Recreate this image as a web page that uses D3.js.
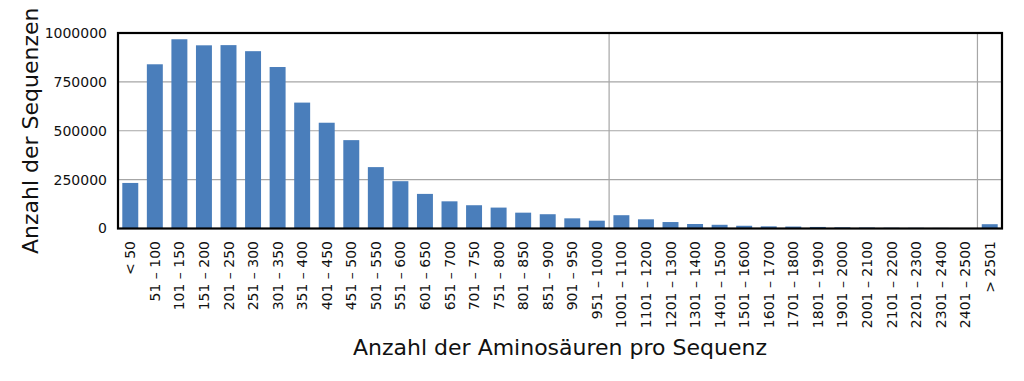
<!DOCTYPE html>
<html><head><meta charset="utf-8">
<script src="https://cdn.jsdelivr.net/npm/d3@7/dist/d3.min.js"></script>
<style>body{margin:0;background:#fff}svg{display:block;font-family:"DejaVu Sans",sans-serif}</style>
</head><body>
<svg id="c" width="1024" height="381"></svg>
<script>
const categories = ["< 50","51 – 100","101 – 150","151 – 200","201 – 250","251 – 300","301 – 350","351 – 400","401 – 450","451 – 500","501 – 550","551 – 600","601 – 650","651 – 700","701 – 750","751 – 800","801 – 850","851 – 900","901 – 950","951 – 1000","1001 – 1100","1101 – 1200","1201 – 1300","1301 – 1400","1401 – 1500","1501 – 1600","1601 – 1700","1701 – 1800","1801 – 1900","1901 – 2000","2001 – 2100","2101 – 2200","2201 – 2300","2301 – 2400","2401 – 2500","> 2501"];
const values = [233000,840000,968000,937000,938000,907000,826000,644000,541000,452000,314000,242000,177000,139000,119000,107000,81000,73000,52000,40000,68000,47000,33000,23000,19000,14000,11000,10000,8000,6000,5000,4000,3500,3000,2500,22000];
const yTicks = [0,250000,500000,750000,1000000];
const groupBoundaries = ["1001 – 1100","> 2501"];
const xTitle = "Anzahl der Aminosäuren pro Sequenz";
const yTitle = "Anzahl der Sequenzen";

const svg = d3.select("#c");
const L=118,R=1002,T=33,B=228.5;
const x = d3.scaleBand().domain(categories).range([L,R]).paddingInner(0.35).paddingOuter(0.175);
const y = d3.scaleLinear().domain([0,1000000]).range([B,T]);
const step = x.step();

// horizontal grid
svg.append("g").selectAll("line").data(yTicks.slice(1,-1)).join("line")
  .attr("x1",L).attr("x2",R).attr("y1",d=>y(d)).attr("y2",d=>y(d))
  .attr("stroke","#a6a6a6").attr("stroke-width",1.2);
// vertical group lines
svg.append("g").selectAll("line").data(groupBoundaries).join("line")
  .attr("x1",d=>x(d)-x.step()*x.paddingInner()/2).attr("x2",d=>x(d)-x.step()*x.paddingInner()/2)
  .attr("y1",T).attr("y2",B).attr("stroke","#a6a6a6").attr("stroke-width",1.2);

// bars
svg.append("g").selectAll("rect").data(values).join("rect")
  .attr("x",(d,i)=>x(categories[i])).attr("width",x.bandwidth())
  .attr("y",d=>y(d)).attr("height",d=>B-y(d)).attr("fill","#4a7ebb");

// frame
svg.append("rect").attr("x",L).attr("y",T).attr("width",R-L).attr("height",B-T)
  .attr("fill","none").attr("stroke","#000").attr("stroke-width",2.2);

// y axis
const ya = svg.append("g").attr("transform",`translate(${L},0)`)
  .call(d3.axisLeft(y).tickValues(yTicks).tickSize(0).tickPadding(11).tickFormat(d3.format("d")));
ya.select(".domain").remove();
ya.selectAll("text").attr("font-size",14).attr("fill","#111").attr("font-family","DejaVu Sans");

// x axis
const xa = svg.append("g").attr("transform",`translate(0,${B})`)
  .call(d3.axisBottom(x).tickSize(0).tickPadding(0));
xa.select(".domain").remove();
xa.selectAll("text").attr("font-size",14).attr("fill","#111").attr("font-family","DejaVu Sans")
  .attr("text-anchor","end").attr("transform","translate(0,12.5) rotate(-90)")
  .attr("x",0).attr("y",0).attr("dy","0.36em");

svg.append("text").attr("x",(L+R)/2).attr("y",355).attr("text-anchor","middle")
  .attr("font-size",22).attr("fill","#111").text(xTitle);
svg.append("text").attr("transform",`translate(38,${(T+B)/2}) rotate(-90)`).attr("text-anchor","middle")
  .attr("font-size",22).attr("fill","#111").text(yTitle);
</script>
</body></html>
